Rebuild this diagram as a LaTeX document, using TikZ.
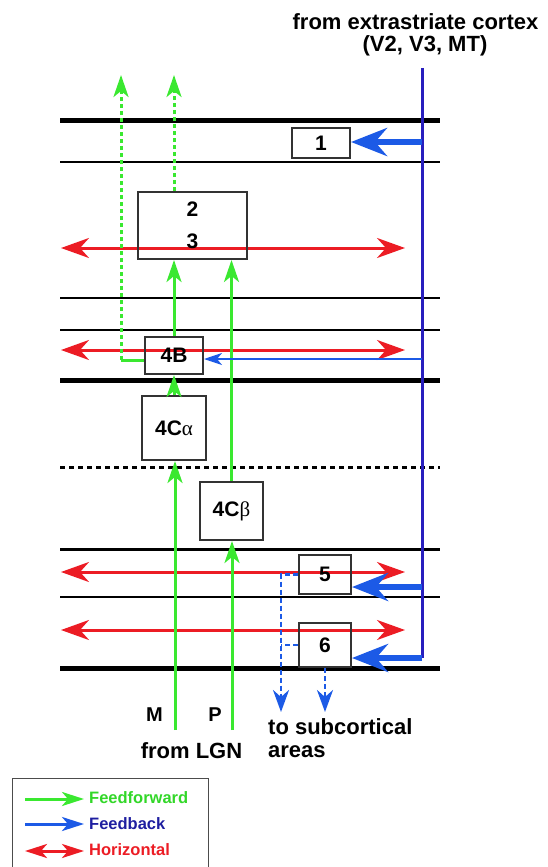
\documentclass[tikz,border=0pt]{standalone}
\usepackage{fontspec}
\setmainfont{Liberation Sans}
\newfontfamily\grk{Liberation Serif}
\usetikzlibrary{arrows.meta}
\definecolor{ffg}{RGB}{58,232,48}
\definecolor{fftxt}{RGB}{50,215,40}
\definecolor{hzr}{RGB}{236,28,36}
\definecolor{fbb}{RGB}{28,90,230}
\definecolor{vln}{RGB}{40,30,190}
\definecolor{txb}{RGB}{30,30,160}
\begin{document}
\begin{tikzpicture}[x=1pt,y=-1pt,
  lbox/.style={draw=black!80, line width=2pt, inner sep=0pt, font=\fontsize{21}{24}\selectfont\bfseries},
  thickline/.style={line width=5pt},
  thinline/.style={line width=2pt},
  hz/.style={draw=hzr, line width=3pt, {Stealth[length=28pt,width=20pt,inset=9pt]}-{Stealth[length=28pt,width=20pt,inset=9pt]}},
  ffline/.style={draw=ffg, line width=3pt},
  ff/.style={ffline, -{Stealth[length=22pt,width=15pt,inset=6pt]}},
  ffdot/.style={ff, dash pattern=on 4pt off 3pt},
  vl/.style={draw=vln, line width=3pt},
  fbthick/.style={draw=fbb, line width=6pt, -{Stealth[length=36pt,width=28pt,inset=12pt]}},
  fbthin/.style={draw=fbb, line width=1.6pt, -{Stealth[length=18pt,width=12pt,inset=5pt]}},
  fbdashline/.style={draw=fbb, line width=2.5pt, dash pattern=on 5pt off 3pt},
  fbdash/.style={fbdashline, -{Stealth[length=22pt,width=16pt,inset=7pt]}},
  txt/.style={font=\fontsize{22}{22}\selectfont\bfseries, inner sep=0pt},
  legtxt/.style={font=\fontsize{16.5}{18}\selectfont\bfseries, inner sep=0pt, anchor=base west},
]
\useasboundingbox (0,0) rectangle (548,867);
% layer boundaries
\foreach \y in {120,380,668} \draw[thickline] (60,\y) -- (440,\y);
\foreach \y in {162,298,330,597} \draw[thinline] (60,\y) -- (440,\y);
\draw[line width=3pt] (60,549) -- (440,549);
\draw[line width=3pt, dash pattern=on 5pt off 4pt] (60,467) -- (440,467);
% horizontal connections
\foreach \i/\y in {a/248,b/350,c/572,d/630} {
  \coordinate (hl\i) at (61,\y);
  \coordinate (hr\i) at (405,\y);
  \draw[hz] (hl\i) -- (hr\i);
}
% boxes
\node[lbox, minimum width=58pt, minimum height=30pt] (b1) at (321,143) {1};
\node[lbox, minimum width=109pt, minimum height=67pt, align=center, font=\fontsize{21}{32}\selectfont\bfseries] (b23) at (192.5,225.5) {2\\3};
\node[lbox, minimum width=58pt, minimum height=37pt] (b4B) at (174,355.5) {4B};
\node[lbox, minimum width=64pt, minimum height=64pt] (b4Ca) at (174,428) {4C{\grk\mdseries α}};
\node[lbox, minimum width=63pt, minimum height=58pt] (b4Cb) at (231.5,511) {4C{\grk\mdseries β}};
\node[lbox, minimum width=52pt, minimum height=39pt] (b5) at (325,574.5) {5};
\node[lbox, minimum width=52pt, minimum height=44pt] (b6) at (325,645) {6};
% feedforward
\coordinate (mbot) at (175,730);
\coordinate (pbot) at (232,730);
\draw[ff] (mbot) -- (mbot |- b4Ca.south);
\draw[ff] (b4Ca.north) -- (b4B.south);
\draw[ff] (b4B.north) -- (b4B.north |- b23.south);
\coordinate (gtop2) at (174,75);
\draw[ffdot] (b4B.north |- b23.north) -- (gtop2);
\coordinate (gl) at (121,360);
\coordinate (gtop1) at (121,75);
\draw[ffline] (gl -| b4B.west) -- (gl);
\draw[ffdot] (gl) -- (gtop1);
\draw[ff] (pbot) -- (pbot |- b4Cb.south);
\draw[ff] (b4Cb.north) -- (b4Cb.north |- b23.south);
% feedback
\coordinate (vtop) at (422,68);
\coordinate (vbot) at (422,658);
\draw[vl] (vtop) -- (vbot);
\coordinate (f1) at (422,142);
\draw[fbthick] (f1) -- (f1 -| b1.east);
\coordinate (f4) at (422,359);
\draw[fbthin] (f4) -- (f4 -| b4B.east);
\coordinate (f5) at (422,587);
\draw[fbthick] (f5) -- (f5 -| b5.east);
\draw[fbthick] (vbot) -- (vbot -| b6.east);
% to subcortical
\coordinate (dx) at (281,712);
\draw[fbdash] (b5.west) -- (b5.west -| dx) -- (dx);
\draw[fbdashline] (b6.west) -- (b6.west -| dx);
\draw[fbdash] (b6.south) -- (b6.south |- dx);
% texts
\node[txt, anchor=base] (src1) at (415.5,30) {from extrastriate cortex};
\node[txt, anchor=base] (src2) at (425,52) {(V2, V3, MT)};
\node[txt, anchor=base, font=\fontsize{20}{22}\selectfont\bfseries] (tM) at (154.5,721) {M};
\node[txt, anchor=base, font=\fontsize{20}{22}\selectfont\bfseries] (tP) at (215,721) {P};
\node[txt, anchor=base] (tLGN) at (191.5,758) {from LGN};
\node[txt, anchor=base west] (tsub1) at (268,734) {to subcortical};
\node[txt, anchor=base west] (tsub2) at (268,757) {areas};
% legend
\draw[line width=1pt, draw=black!70] (12,867) -- (12,778) -- (208,778) -- (208,867);
\coordinate (l1a) at (25,799); \coordinate (l1b) at (84,799);
\coordinate (l2a) at (25,824); \coordinate (l2b) at (84,824);
\coordinate (l3a) at (25,851); \coordinate (l3b) at (84,851);
\draw[draw=ffg, line width=3pt, -{Stealth[length=22pt,width=14pt,inset=6pt]}] (l1a) -- (l1b);
\draw[draw=fbb, line width=3pt, -{Stealth[length=22pt,width=14pt,inset=6pt]}] (l2a) -- (l2b);
\draw[draw=hzr, line width=3pt, {Stealth[length=22pt,width=14pt,inset=6pt]}-{Stealth[length=22pt,width=14pt,inset=6pt]}] (l3a) -- (l3b);
\node[legtxt, text=fftxt] (lt1) at (89,803.5) {Feedforward};
\node[legtxt, text=txb] (lt2) at (89,829) {Feedback};
\node[legtxt, text=hzr] (lt3) at (89,855) {Horizontal};
\end{tikzpicture}
\end{document}
